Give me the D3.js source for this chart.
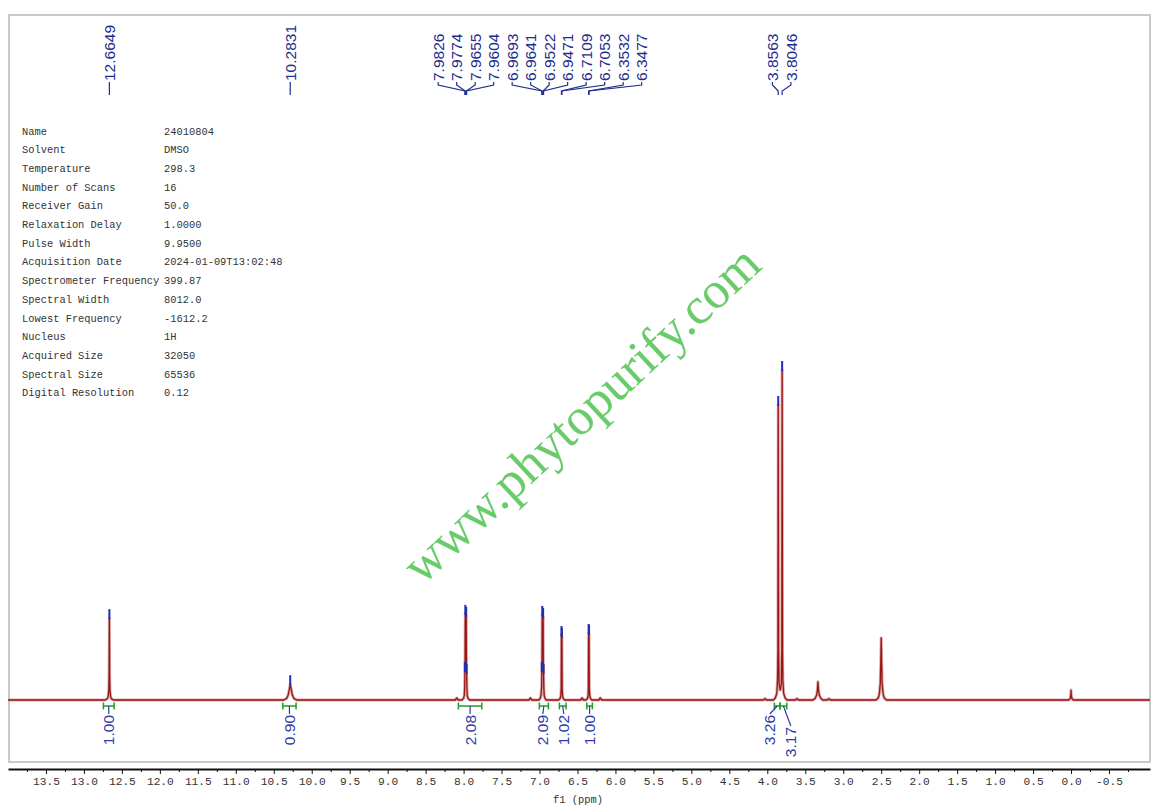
<!DOCTYPE html>
<html><head><meta charset="utf-8">
<script src="https://cdn.jsdelivr.net/npm/d3@7"></script>
<style>body{margin:0;background:#fff}svg{display:block}</style>
</head><body>
<svg id="c" width="1156" height="812"></svg>
<script>
// ---------------- DATA ----------------
const paramNames = ["Name","Solvent","Temperature","Number of Scans","Receiver Gain","Relaxation Delay","Pulse Width","Acquisition Date","Spectrometer Frequency","Spectral Width","Lowest Frequency","Nucleus","Acquired Size","Spectral Size","Digital Resolution"];
const paramValues = ["24010804","DMSO","298.3","16","50.0","1.0000","9.9500","2024-01-09T13:02:48","399.87","8012.0","-1612.2","1H","32050","65536","0.12"];

const tickValues = [13.5,13.0,12.5,12.0,11.5,11.0,10.5,10.0,9.5,9.0,8.5,8.0,7.5,7.0,6.5,6.0,5.5,5.0,4.5,4.0,3.5,3.0,2.5,2.0,1.5,1.0,0.5,0.0,-0.5];
const tickLabels = ["13.5","13.0","12.5","12.0","11.5","11.0","10.5","10.0","9.5","9.0","8.5","8.0","7.5","7.0","6.5","6.0","5.5","5.0","4.5","4.0","3.5","3.0","2.5","2.0","1.5","1.0","0.5","0.0","-0.5"];
const minorTickValues = [13.75,13.25,12.75,12.25,11.75,11.25,10.75,10.25,9.75,9.25,8.75,8.25,7.75,7.25,6.75,6.25,5.75,5.25,4.75,4.25,3.75,3.25,2.75,2.25,1.75,1.25,0.75,0.25,-0.25,-0.75];
const axisTitle = "f1 (ppm)";

// picked peaks (ppm) and their intensities (tallest = 100)
const peakPPM = [12.6649,10.2831,7.9826,7.9774,7.9655,7.9604,6.9693,6.9641,6.9522,6.9471,6.7109,6.7053,6.3532,6.3477,3.8563,3.8046];
const peakHeight = [24.8,4.8,8.8,26.1,25.5,8.2,8.8,25.8,25.2,8.2,19.7,19.1,20.3,20.0,89.4,100];

// integrals
const integralFrom = [12.743,10.381,8.068,7.002,6.738,6.377,3.907,3.832];
const integralTo   = [12.602,10.206,7.760,6.883,6.650,6.304,3.832,3.744];
const integralValue = ["1.00","0.90","2.08","2.09","1.02","1.00","3.26","3.17"];

// spectrum trace vertices [ppm, intensity]
const spectrum = [
 [14.0,0],
 [12.72,0],[12.69,0.4],[12.68,1.2],[12.672,3],[12.668,8],[12.6649,24.8],[12.662,8],[12.658,3],[12.65,1.2],[12.64,0.4],[12.61,0],
 [10.37,0],[10.33,0.5],[10.31,1.5],[10.295,3.2],[10.2831,4.8],[10.27,3.2],[10.255,1.5],[10.235,0.5],[10.20,0],
 [8.11,0],[8.09,0.6],[8.07,0],
 [8.02,0],[8.0,0.5],[7.99,1.5],[7.985,4],[7.9826,8.8],[7.98,12],[7.9774,26.1],[7.9715,16],[7.9655,25.5],[7.963,12],[7.9604,8.2],[7.957,4],[7.952,1.5],[7.942,0.5],[7.92,0],
 [7.14,0],[7.12,0.6],[7.10,0],
 [7.01,0],[6.99,0.5],[6.98,1.5],[6.972,4],[6.9693,8.8],[6.967,12],[6.9641,25.8],[6.958,16],[6.9522,25.2],[6.95,12],[6.9471,8.2],[6.944,4],[6.939,1.5],[6.929,0.5],[6.91,0],
 [6.75,0],[6.73,0.4],[6.72,1.2],[6.714,3.5],[6.7109,19.7],[6.708,14],[6.7053,19.1],[6.702,3.5],[6.696,1.2],[6.686,0.4],[6.67,0],
 [6.46,0],[6.44,0.6],[6.42,0],
 [6.39,0],[6.37,0.4],[6.36,1.2],[6.3565,3.5],[6.3532,20.3],[6.3505,15],[6.3477,20.0],[6.3445,3.5],[6.338,1.2],[6.328,0.4],[6.31,0],
 [6.22,0],[6.20,0.6],[6.18,0],
 [4.05,0],[4.03,0.4],[4.01,0],
 [3.92,0],[3.895,0.6],[3.875,2],[3.865,6],[3.86,15],[3.8563,89.4],[3.852,15],[3.845,5],[3.83,3],[3.815,5],[3.809,15],[3.8046,100],[3.80,15],[3.795,6],[3.785,2],[3.765,0.6],[3.74,0],
 [3.63,0],[3.61,0.4],[3.59,0],
 [3.40,0],[3.37,0.5],[3.35,1.5],[3.34,3],[3.333,5.5],[3.326,3],[3.315,1.5],[3.295,0.5],[3.27,0],
 [3.21,0],[3.19,0.4],[3.17,0],
 [2.57,0],[2.54,0.6],[2.525,1.8],[2.512,5],[2.505,12],[2.50,18.8],[2.495,12],[2.488,5],[2.475,1.8],[2.46,0.6],[2.43,0],
 [0.03,0],[0.01,0.5],[0.003,1.5],[0.0,3.0],[-0.003,1.5],[-0.01,0.5],[-0.03,0],
 [-1.04,0]
];
const watermark = "www.phytopurify.com";

// ---------------- LAYOUT ----------------
const svg = d3.select("#c");
const W = 1156, H = 812;
const xs = d3.scaleLinear().domain([14.0,-1.04]).range([8,1150]);
const ys = d3.scaleLinear().domain([0,100]).range([700,370]);
const mono = "'Liberation Mono','DejaVu Sans Mono',monospace";
const sans = "'Liberation Sans',Arial,sans-serif";
const blue = "#1e2d8e";
const blue2 = "#2d3da2";
const green = "#1f9f2a";

svg.append("rect").attr("width",W).attr("height",H).attr("fill","#fff");
// frame
svg.append("rect").attr("x",9).attr("y",15).attr("width",1141).attr("height",747)
  .attr("fill","none").attr("stroke","#c9c9c9").attr("stroke-width",2);

// parameter table
const pt = svg.append("g").attr("font-family",mono).attr("font-size",10.4).attr("fill","#333");
paramNames.forEach((n,i)=>{
  pt.append("text").attr("x",22).attr("y",134.5+i*18.71).text(n);
  pt.append("text").attr("x",164).attr("y",134.5+i*18.71).text(paramValues[i]);
});

// watermark
svg.append("text").attr("transform","translate(581,414) rotate(-43)")
  .attr("text-anchor","middle").attr("dominant-baseline","central")
  .attr("font-family","'Liberation Serif','Times New Roman',serif").attr("font-size",52)
  .attr("fill","#6acb6a").text(watermark);

// spectrum
const line = d3.line().x(d=>xs(d[0])).y(d=>ys(d[1]));
svg.append("path").datum(spectrum).attr("d",line).attr("fill","none")
  .attr("stroke","#dba7a7").attr("stroke-width",3).attr("stroke-linejoin","round");
svg.append("path").datum(spectrum).attr("d",line).attr("fill","none")
  .attr("stroke","#9a1616").attr("stroke-width",1.3).attr("stroke-linejoin","round");

// peak markers
svg.append("g").selectAll("line").data(peakPPM).join("line")
  .attr("x1",d=>xs(d)).attr("x2",d=>xs(d))
  .attr("y1",(d,i)=>ys(peakHeight[i])-9).attr("y2",(d,i)=>ys(peakHeight[i])+1)
  .attr("stroke","#1f2fb0").attr("stroke-width",2);

// label spreading
function spread(desired, gap, nudgeFn){
  let clusters = desired.map((d,i)=>({items:[i],center:d}));
  const pos = c=>c.items.map((_,k)=>c.center+(k-(c.items.length-1)/2)*gap);
  let changed=true;
  while(changed){
    changed=false;
    for(let i=0;i<clusters.length-1;i++){
      const pa=pos(clusters[i]), pb=pos(clusters[i+1]);
      if(pb[0]-pa[pa.length-1] < gap-1e-6){
        const items=clusters[i].items.concat(clusters[i+1].items);
        clusters.splice(i,2,{items,center:d3.mean(items,j=>desired[j])});
        changed=true;break;
      }
    }
  }
  const out=[];
  clusters.forEach(c=>{const p=pos(c); const nd=nudgeFn?nudgeFn(c.items.length):0; c.items.forEach((j,k)=>out[j]=p[k]+nd);});
  return out;
}

// top peak labels
const fsTop = 15.5;
const peakX = peakPPM.map(d=>xs(d));
const topX = spread(peakX, 18.5, n=> n>4 ? 12 : (n==2 ? 1.5 : 0));
const tg = svg.append("g");
peakPPM.forEach((p,i)=>{
  const lx = topX[i], px = peakX[i];
  tg.append("text").attr("transform",`translate(${lx+fsTop*0.36},81) rotate(-90)`)
    .attr("font-family",sans).attr("font-size",fsTop).attr("fill",blue)
    .text(p.toFixed(4));
  tg.append("path").attr("d",`M${lx},82 V85 L${px},91 V95`)
    .attr("fill","none").attr("stroke",blue).attr("stroke-width",1.2);
});

// integrals
const ig = svg.append("g");
const intC = integralFrom.map((f,i)=>(xs(f)+xs(integralTo[i]))/2);
const intX = spread(intC, 21);
const fsInt = 15.5;
integralValue.forEach((v,i)=>{
  const x1=xs(integralFrom[i]), x2=xs(integralTo[i]), cx=intC[i], lx=intX[i];
  const top = (i>0 && intX[i]-intX[i-1]<22 && i===integralValue.length-1) ? 727 : 715;
  ig.append("path").attr("d",`M${x1},706 H${x2} M${x1},702.5 V709.5 M${x2},702.5 V709.5`)
    .attr("fill","none").attr("stroke",green).attr("stroke-width",1.5);
  ig.append("path").attr("d",`M${cx},706 L${lx},${top-1}`)
    .attr("fill","none").attr("stroke",blue2).attr("stroke-width",1.2);
  ig.append("text").attr("transform",`translate(${lx+fsInt*0.36},${top}) rotate(-90)`)
    .attr("text-anchor","end").attr("font-family",sans).attr("font-size",fsInt)
    .attr("fill",blue2).text(v);
});

// axis
const ax = svg.append("g").attr("transform","translate(0,769)")
  .call(d3.axisBottom(xs).tickValues(tickValues).tickFormat((d,i)=>tickLabels[i]).tickSize(5).tickSizeOuter(0).tickPadding(3));
ax.select(".domain").attr("stroke","#111").attr("stroke-width",2);
ax.selectAll(".tick line").attr("stroke","#111");
ax.selectAll("text").attr("font-family",mono).attr("font-size",11.2).attr("fill","#333");
const axm = svg.append("g").attr("transform","translate(0,769)")
  .call(d3.axisBottom(xs).tickValues(minorTickValues).tickFormat("").tickSize(3).tickSizeOuter(0));
axm.select(".domain").remove();
axm.selectAll(".tick line").attr("stroke","#111");
svg.append("text").attr("x",578).attr("y",803).attr("text-anchor","middle")
  .attr("font-family",mono).attr("font-size",10.4).attr("fill","#333").text(axisTitle);
</script>
</body></html>
